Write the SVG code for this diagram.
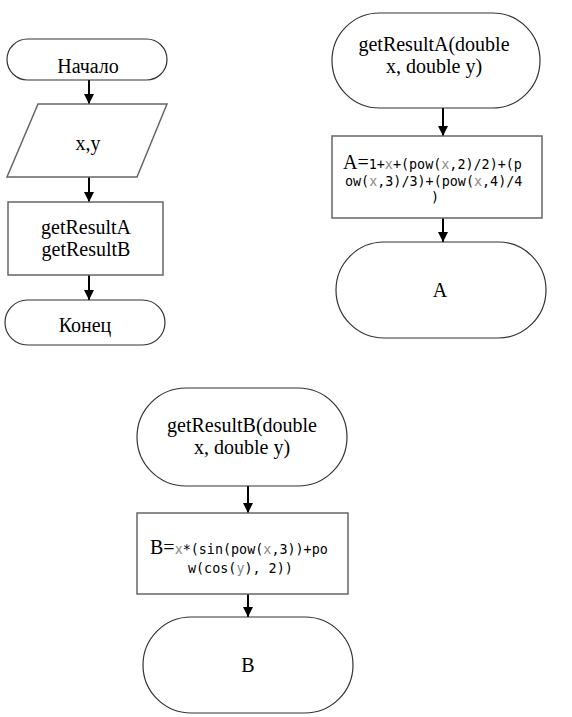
<svg xmlns="http://www.w3.org/2000/svg" width="572" height="717" viewBox="0 0 572 717">
<style>
.term{fill:#fff;stroke:#333;stroke-width:1.2}
.box{fill:#fff;stroke:#666;stroke-width:1.5}
.t{font-family:"Liberation Serif","Times New Roman",serif;font-size:20px;fill:#000;text-anchor:middle}
.m{font-family:"DejaVu Sans Mono",monospace;font-size:13.4px;fill:#000}
.g{fill:#888}
.c{stroke:#000;stroke-width:2;fill:none;marker-end:url(#ah)}
</style>
<defs>
<marker id="ah" viewBox="0 0 10 10" refX="10" refY="5" markerWidth="5" markerHeight="5" orient="auto" markerUnits="strokeWidth">
<path d="M0,0 L10,5 L0,10 z" fill="#000"/>
</marker>
</defs>
<rect width="572" height="717" fill="#fff"/>
<g id="connectors">
<line class="c" x1="89" y1="80" x2="89" y2="104"/>
<line class="c" x1="89" y1="177" x2="89" y2="202"/>
<line class="c" x1="89" y1="275" x2="89" y2="300"/>
<line class="c" x1="443" y1="108" x2="443" y2="136"/>
<line class="c" x1="443" y1="218" x2="443" y2="242"/>
<line class="c" x1="248" y1="486" x2="248" y2="513"/>
<line class="c" x1="248" y1="594" x2="248" y2="617"/>
</g>
<g id="start">
<rect class="term" x="7" y="39" width="160" height="41" rx="20.5"/>
<text class="t" x="88" y="73">Начало</text>
</g>
<g id="input">
<polygon class="box" points="38,104 167,104 137,177 7,177"/>
<text class="t" x="88" y="150">x,y</text>
</g>
<g id="calls">
<rect class="box" x="8" y="202" width="155" height="73"/>
<text class="t" x="86" y="234">getResultA</text>
<text class="t" x="86" y="256">getResultB</text>
</g>
<g id="end">
<rect class="term" x="5" y="300" width="160" height="45" rx="22.5"/>
<text class="t" x="85" y="332">Конец</text>
</g>
<g id="funcA">
<rect class="term" x="332" y="13" width="208" height="95" rx="47.5"/>
<text class="t" x="434" y="51">getResultA(double</text>
<text class="t" x="434" y="73">x, double y)</text>
</g>
<g id="calcA">
<rect class="box" x="332" y="136" width="210" height="82"/>
<text x="343" y="169"><tspan class="t" style="text-anchor:start">A=</tspan><tspan class="m">1+<tspan class="g">x</tspan>+(pow(<tspan class="g">x</tspan>,2)/2)+(p</tspan></text>
<text class="m" x="345" y="186">ow(<tspan class="g">x</tspan>,3)/3)+(pow(<tspan class="g">x</tspan>,4)/4</text>
<text class="m" x="431" y="202">)</text>
</g>
<g id="retA">
<rect class="term" x="336" y="242" width="210" height="96" rx="48"/>
<text class="t" x="440" y="297">A</text>
</g>
<g id="funcB">
<rect class="term" x="137" y="388" width="210" height="98" rx="49"/>
<text class="t" x="242" y="432">getResultB(double</text>
<text class="t" x="242" y="454">x, double y)</text>
</g>
<g id="calcB">
<rect class="box" x="137" y="513" width="211" height="81"/>
<text x="150" y="554"><tspan class="t" style="text-anchor:start">B=</tspan><tspan class="m"><tspan class="g">x</tspan>*(sin(pow(<tspan class="g">x</tspan>,3))+po</tspan></text>
<text class="m" x="188" y="573">w(cos(<tspan class="g">y</tspan>), 2))</text>
</g>
<g id="retB">
<rect class="term" x="143" y="617" width="210" height="96" rx="48"/>
<text class="t" x="248" y="672">B</text>
</g>
</svg>
